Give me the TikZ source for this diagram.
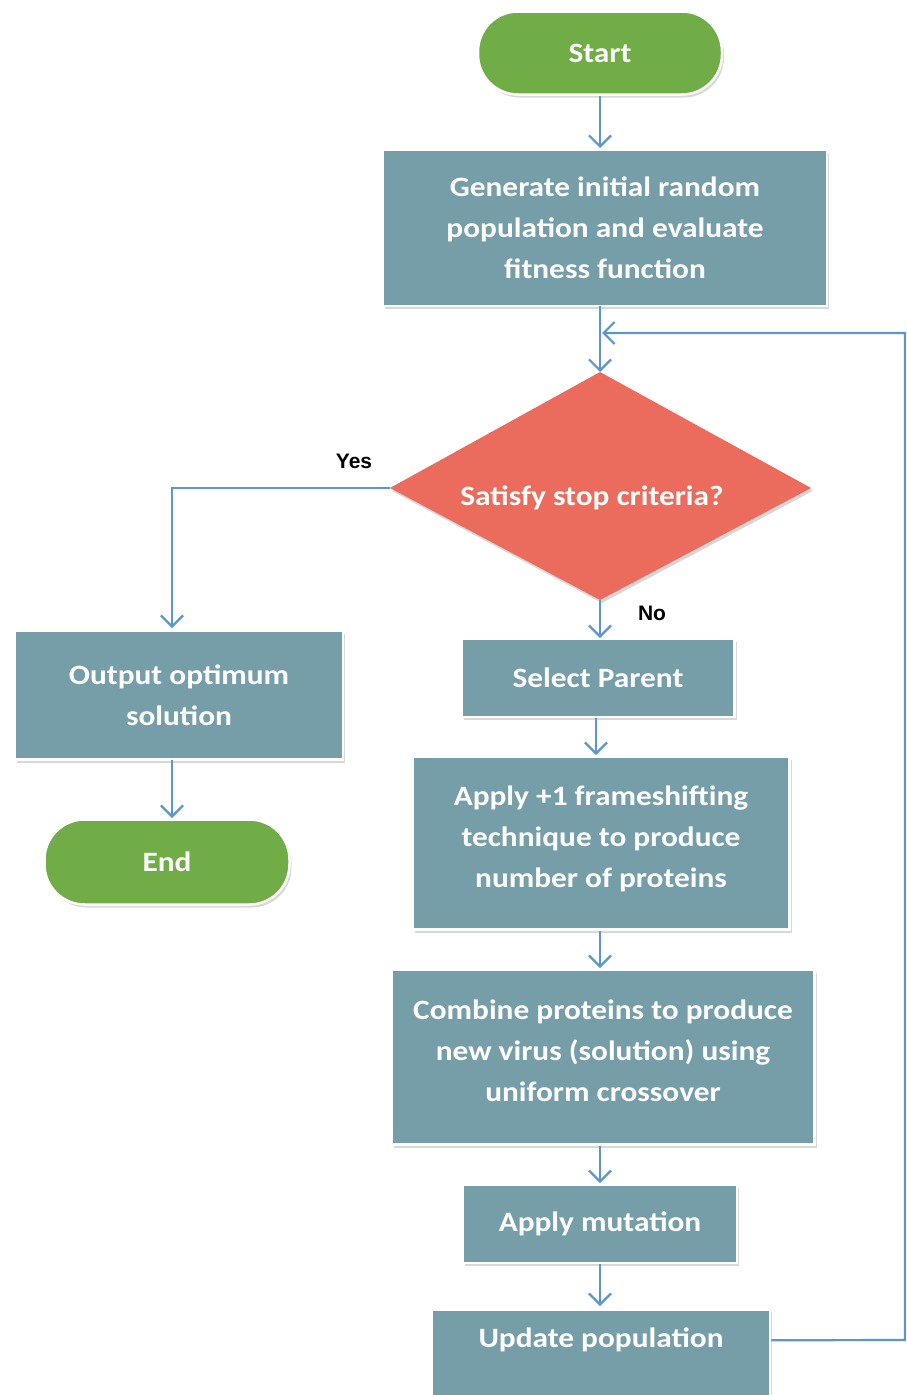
\documentclass[tikz,border=0pt]{standalone}
\usepackage{fontspec}
\setmainfont{Carlito}
\newfontfamily\lblfont{Liberation Sans}
\newfontfamily\boxfont[FakeStretch=1.12]{Carlito}
\usetikzlibrary{arrows.meta,shadows}
\definecolor{boxc}{HTML}{769EA9}
\definecolor{greenc}{HTML}{70AD47}
\definecolor{redc}{HTML}{EB6B5C}
\definecolor{linec}{HTML}{5B96CE}
\tikzset{
  boxtext/.style={text=white, font=\boxfont\bfseries\fontsize{28}{41}\selectfont, align=center, inner sep=0pt},
  shad/.style={drop shadow={shadow xshift=2pt, shadow yshift=-3pt, opacity=0.25, fill=black!60}},
  common/.style={boxtext, draw=white, line width=2.5pt, shad},
  procbox/.style={common, fill=boxc, rectangle},
  term/.style={common, fill=greenc, rounded corners=40pt},
  conn/.style={draw=linec, line width=2.2pt, -{Straight Barb[length=11pt,width=22pt,line width=2.2pt]}},
  lbl/.style={font=\lblfont\bfseries\fontsize{21}{26}\selectfont, text=black, inner sep=0pt}
}
\begin{document}
\begin{tikzpicture}[x=1pt,y=-1pt]
\useasboundingbox (0,0) rectangle (907,1395);
\clip (0,0) rectangle (907,1395);
\fill[white] (0,0) rectangle (907,1395);
\node[term, minimum width=244, minimum height=83] (start) at (600,53) {Start};
\node[procbox, minimum width=444, minimum height=156] (gen) at (605,228) {Generate initial random\\population and evaluate\\fitness function};
\fill[redc, shad] (390,488) -- (600,372) -- (811,488) -- (600,600) -- cycle;
\node[boxtext] (dect) at (592,498) {Satisfy stop criteria?};
\coordinate (dl) at (390,488);
\coordinate (dt) at (600,372);
\coordinate (db) at (600,600);
\node[procbox, minimum width=328, minimum height=129] (out) at (179,695) {Output optimum\\solution};
\node[term, minimum width=245, minimum height=85] (end) at (167,862) {End};
\node[procbox, minimum width=273, minimum height=78] (sel) at (598,678) {Select Parent};
\node[procbox, minimum width=377, minimum height=173, text depth=13pt] (app) at (601,843) {Apply +1 frameshifting\\technique to produce\\number of proteins};
\node[procbox, minimum width=423, minimum height=175, text depth=12pt] (comb) at (603,1057) {Combine proteins to produce\\new virus (solution) using\\uniform crossover};
\node[procbox, minimum width=274, minimum height=78] (mut) at (600,1224) {Apply mutation};
\node[procbox, minimum width=338, anchor=north, text height=38pt, text depth=54pt] (upd) at (601,1308) {Update population};
\node[lbl] (yes) at (354,461) {Yes};
\node[lbl] (no) at (652,613) {No};
% connectors
\draw[conn] (start.south -| 600,0) -- (600,148);
\draw[conn] (600,306) -- (dt);
\draw[conn] (dl) -- (172,488) -- (172,628);
\draw[conn] (172,760) -- (172,818);
\draw[conn] (db) -- (600,638);
\draw[conn] (596,718) -- (596,755);
\draw[conn] (600,931) -- (600,968);
\draw[conn] (600,1146) -- (600,1183);
\draw[conn] (600,1264) -- (600,1306);
\draw[conn] ([yshift=7pt]upd.base east) -- (905,1340) -- (905,333) -- (602,333);
\end{tikzpicture}
\end{document}
